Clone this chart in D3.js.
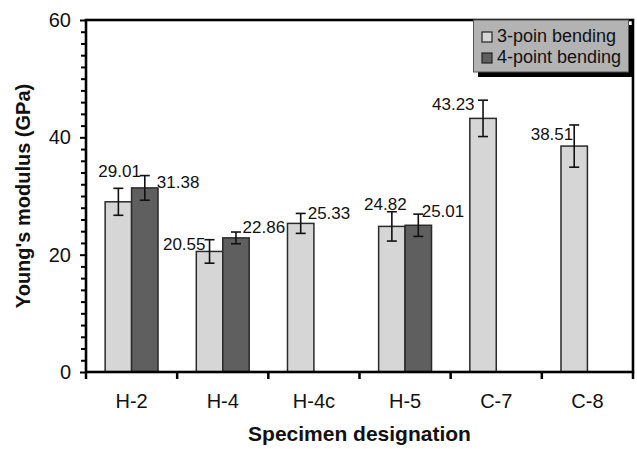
<!DOCTYPE html>
<html>
<head>
<meta charset="utf-8">
<script src="https://cdn.jsdelivr.net/npm/d3@7"></script>
<style>
  html, body { margin: 0; padding: 0; background: #fff; }
  svg { display: block; font-family: "Liberation Sans", Arial, sans-serif; }
</style>
</head>
<body>
<svg id="chart" width="637" height="449"></svg>
<script>
// ---- data ----
const categories = ["H-2", "H-4", "H-4c", "H-5", "C-7", "C-8"];
const seriesNames = ["3-poin bending", "4-point bending"];
const threePoint = [29.01, 20.55, 25.33, 24.82, 43.23, 38.51];
const threePointErr = [2.3, 2.0, 1.7, 2.5, 3.1, 3.6];
const fourPoint = [31.38, 22.86, null, 25.01, null, null];
const fourPointErr = [2.1, 1.0, null, 1.9, null, null];
const yTicks = [0, 20, 40, 60];

// ---- layout (label nudges, pixels) ----
const labelNudge3 = [[-20, -11], [-46.6, 10.5], [7, 5.6], [-27.8, -1.7], [-51, 10], [-43.5, 15]];
const labelNudge4 = [[12, 12.7], [6.6, 1], null, [3.4, 3], null, null];

const svg = d3.select("#chart");
const pL = 86, pR = 633, pT = 20, pB = 372;

const x = d3.scaleBand().domain(categories).range([pL, pR]).padding(0);
const y = d3.scaleLinear().domain([0, 60]).range([pB, pT]);
const bw = x.bandwidth() * 0.29;
const xs = d3.scaleBand().domain(seriesNames).range([-bw, bw]);
const colors = { "3-poin bending": "#d6d6d6", "4-point bending": "#5f5f5f" };

const rows = [];
categories.forEach((c, i) => {
  rows.push({ cat: c, s: seriesNames[0], v: threePoint[i], e: threePointErr[i], n: labelNudge3[i] });
  if (fourPoint[i] != null)
    rows.push({ cat: c, s: seriesNames[1], v: fourPoint[i], e: fourPointErr[i], n: labelNudge4[i] });
});
const cx = d => x(d.cat) + x.bandwidth() / 2 + xs(d.s) + xs.bandwidth() / 2;

// bars
svg.append("g").selectAll("rect").data(rows).join("rect")
  .attr("x", d => x(d.cat) + x.bandwidth() / 2 + xs(d.s))
  .attr("y", d => y(d.v))
  .attr("width", xs.bandwidth())
  .attr("height", d => y(0) - y(d.v))
  .attr("fill", d => colors[d.s])
  .attr("stroke", "#2a2a2a")
  .attr("stroke-width", 1.5);

// error bars
const eb = svg.append("g").attr("stroke", "#111").attr("stroke-width", 1.6);
rows.forEach(d => {
  const c = cx(d);
  eb.append("line").attr("x1", c).attr("x2", c).attr("y1", y(d.v + d.e)).attr("y2", y(d.v - d.e));
  eb.append("line").attr("x1", c - 5).attr("x2", c + 5).attr("y1", y(d.v + d.e)).attr("y2", y(d.v + d.e));
  eb.append("line").attr("x1", c - 5).attr("x2", c + 5).attr("y1", y(d.v - d.e)).attr("y2", y(d.v - d.e));
});

// value labels
svg.append("g").selectAll("text").data(rows).join("text")
  .attr("x", d => cx(d) + d.n[0])
  .attr("y", d => y(d.v + d.e) + d.n[1])
  .attr("font-size", 17)
  .attr("fill", "#111")
  .text(d => d.v.toFixed(2));

// y axis
const yAxis = d3.axisLeft(y)
  .tickValues(d3.range(0, 61, 2))
  .tickSize(5)
  .tickPadding(10)
  .tickFormat(d => yTicks.includes(d) ? d : "");
const gy = svg.append("g").attr("transform", `translate(${pL},0)`).call(yAxis);
gy.select(".domain").remove();
gy.selectAll(".tick line").attr("stroke", "#000").attr("stroke-width", 2)
  .attr("x2", d => yTicks.includes(d) ? -6 : -5);
gy.selectAll(".tick text").attr("font-size", 20).attr("fill", "#111")
  .attr("font-family", "'Liberation Sans', Arial, sans-serif");

// x axis labels
const xAxis = d3.axisBottom(x).tickSize(0).tickPadding(22);
const gx = svg.append("g").attr("transform", `translate(0,${pB})`).call(xAxis);
gx.select(".domain").remove();
gx.selectAll(".tick text").attr("font-size", 20).attr("fill", "#111")
  .attr("font-family", "'Liberation Sans', Arial, sans-serif");
// boundary ticks
const bounds = categories.map(c => x(c)).concat([pR]);
svg.append("g").selectAll("line").data(bounds).join("line")
  .attr("x1", d => d).attr("x2", d => d)
  .attr("y1", pB).attr("y2", pB + 7)
  .attr("stroke", "#000").attr("stroke-width", 2.5);

// frame
svg.append("rect")
  .attr("x", pL).attr("y", pT)
  .attr("width", pR - pL).attr("height", pB - pT)
  .attr("fill", "none").attr("stroke", "#000").attr("stroke-width", 2.6);

// legend
const lg = svg.append("g");
lg.append("rect").attr("x", 478).attr("y", 25).attr("width", 155).attr("height", 52).attr("fill", "#000");
lg.append("rect").attr("x", 473.5).attr("y", 20).attr("width", 155).attr("height", 52)
  .attr("fill", "#b3b3b3").attr("stroke", "#555").attr("stroke-width", 1);
seriesNames.forEach((s, i) => {
  lg.append("rect").attr("x", 482).attr("y", 32 + i * 21).attr("width", 10).attr("height", 10)
    .attr("fill", colors[s]).attr("stroke", "#222").attr("stroke-width", 1.2);
  lg.append("text").attr("x", 497).attr("y", 41.5 + i * 21).attr("font-size", 18).attr("fill", "#111").text(s);
});

// axis titles
svg.append("text")
  .attr("x", (pL + pR) / 2).attr("y", 441)
  .attr("text-anchor", "middle").attr("font-size", 21).attr("font-weight", "bold").attr("fill", "#111")
  .text("Specimen designation");
svg.append("text")
  .attr("transform", `translate(30,${(pT + pB) / 2}) rotate(-90)`)
  .attr("text-anchor", "middle").attr("font-size", 20).attr("font-weight", "bold").attr("fill", "#111")
  .text("Young's modulus (GPa)");
</script>
</body>
</html>
